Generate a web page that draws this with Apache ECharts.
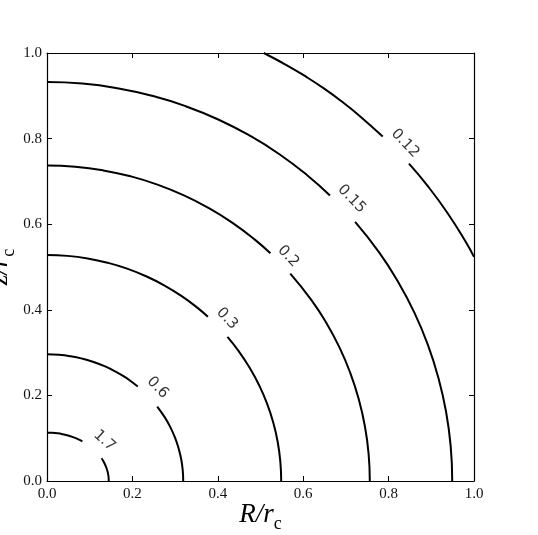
<!DOCTYPE html>
<html><head><meta charset="utf-8">
<script src="https://cdn.jsdelivr.net/npm/echarts@6/dist/echarts.min.js"></script>
<style>html,body{margin:0;padding:0;background:#fff}#c{width:538px;height:535px}</style>
</head><body><div id="c"></div>
<script>
// Tick labels
const tickLabels = ['0.0', '0.2', '0.4', '0.6', '0.8', '1.0'];
// Contour levels
const levels = ['1.7', '0.6', '0.3', '0.2', '0.15', '0.12'];
// Contour paths [R/rc, z/rc], split where the inline label sits
const c17a = [[0, 0.113], [0.0126, 0.1126], [0.0251, 0.1113], [0.0374, 0.1091], [0.0495, 0.1062], [0.0611, 0.1024], [0.0723, 0.0979], [0.0829, 0.0926]];
const c17b = [[0.1277, 0.0531], [0.1311, 0.0478], [0.1359, 0.0386], [0.1397, 0.0292], [0.1424, 0.0196], [0.1441, 0.0099], [0.1446, 0]];
const c06a = [[0, 0.296], [0.0278, 0.2949], [0.0554, 0.2915], [0.0826, 0.2859], [0.1091, 0.2782], [0.1348, 0.2683], [0.1595, 0.2563], [0.1830, 0.2425], [0.2050, 0.2267], [0.2126, 0.2207]];
const c06b = [[0.2581, 0.1740], [0.2763, 0.148], [0.2891, 0.1251], [0.2998, 0.1012], [0.3081, 0.0766], [0.3142, 0.0514], [0.3178, 0.0258], [0.319, 0]];
const c03a = [[0, 0.528], [0.0478, 0.526], [0.0952, 0.52], [0.1420, 0.51], [0.1876, 0.4962], [0.2318, 0.4785], [0.2743, 0.4572], [0.3146, 0.4325], [0.3526, 0.4045], [0.3769, 0.3836]];
const c03b = [[0.4226, 0.3366], [0.4493, 0.3029], [0.4750, 0.264], [0.4971, 0.2231], [0.5154, 0.1806], [0.5298, 0.1366], [0.5402, 0.0917], [0.5464, 0.046], [0.5485, 0]];
const c02a = [[0, 0.737], [0.0659, 0.7342], [0.1312, 0.7258], [0.1957, 0.7119], [0.2586, 0.6926], [0.3195, 0.6679], [0.378, 0.6382], [0.4336, 0.6038], [0.486, 0.5645], [0.5232, 0.532]];
const c02b = [[0.5697, 0.4845], [0.6193, 0.4227], [0.6547, 0.3685], [0.6852, 0.3115], [0.7104, 0.2521], [0.7302, 0.1907], [0.7445, 0.128], [0.7531, 0.0643], [0.756, 0]];
const c015a = [[0, 0.932], [0.0828, 0.9285], [0.1648, 0.9178], [0.2456, 0.9002], [0.3246, 0.8758], [0.4011, 0.8447], [0.4745, 0.8071], [0.5443, 0.7635], [0.61, 0.7139], [0.6627, 0.667]];
const c015b = [[0.7216, 0.6053], [0.7774, 0.5346], [0.8218, 0.466], [0.8601, 0.3939], [0.8918, 0.3187], [0.9166, 0.2412], [0.9346, 0.1618], [0.9454, 0.0813], [0.949, 0]];
const c012a = [[0.5077, 1.0], [0.5659, 0.969], [0.6081, 0.9437], [0.6492, 0.9166], [0.689, 0.8877], [0.7275, 0.8571], [0.7862, 0.8048]];
const c012b = [[0.8477, 0.7414], [0.8919, 0.6889], [0.9383, 0.6257], [0.9802, 0.5595], [1.0, 0.5237]];
// Inline label anchor positions [R/rc, z/rc]
const labelPos = [[0.1345, 0.094], [0.259, 0.218], [0.4215, 0.3795], [0.565, 0.525], [0.7135, 0.659], [0.8386, 0.789]];

const labelRot = [-42, -46, -46, -46, -46, -46];
const paths = [c17a, c17b, c06a, c06b, c03a, c03b, c02a, c02b, c015a, c015b, c012a, c012b];

const serif = 'Liberation Serif';
const nameRich = {
  i: {fontFamily: serif, fontStyle: 'italic', fontSize: 27, color: '#000', lineHeight: 36},
  s: {fontFamily: serif, fontSize: 18, color: '#000', lineHeight: 18, verticalAlign: 'bottom'}
};
const frame = {show: true, onZero: false, lineStyle: {color: '#000', width: 1.2}};
const ticks = {show: true, inside: true, length: 5, lineStyle: {color: '#000', width: 1}};
const lbl = {fontFamily: serif, fontSize: 15, color: '#111', formatter: v => tickLabels[Math.round(v / 0.2)]};

const series = paths.map(p => ({
  type: 'line', data: p, showSymbol: false, smooth: true, silent: true,
  lineStyle: {color: '#000', width: 2}, xAxisIndex: 0, yAxisIndex: 0, z: 3
}));
series.push({
  type: 'scatter', symbolSize: 0, silent: true, z: 4,
  data: labelPos.map((p, k) => ({
    value: p,
    label: {show: true, formatter: levels[k], rotate: labelRot[k], position: 'inside',
      fontFamily: 'DejaVu Sans', fontSize: 15, color: '#000'}
  }))
});

const chart = echarts.init(document.getElementById('c'), null, {renderer: 'canvas'});
chart.setOption({
  animation: false,
  backgroundColor: '#fff',
  grid: {left: 47, top: 53, right: 64, bottom: 54, containLabel: false, outerBoundsMode: 'none'},
  xAxis: [
    {type: 'value', min: 0, max: 1, interval: 0.2, position: 'bottom',
      axisLine: frame, axisTick: ticks, axisLabel: Object.assign({margin: 6}, lbl), splitLine: {show: false},
      name: '{i|R/r}{s|c}', nameLocation: 'middle', nameGap: 16, nameMoveOverlap: false,
      nameTextStyle: {rich: nameRich}},
    {type: 'value', min: 0, max: 1, interval: 0.2, position: 'top',
      axisLine: frame, axisTick: ticks, axisLabel: {show: false}, splitLine: {show: false}}
  ],
  yAxis: [
    {type: 'value', min: 0, max: 1, interval: 0.2, position: 'left',
      axisLine: frame, axisTick: ticks, axisLabel: Object.assign({margin: 5}, lbl), splitLine: {show: false},
      name: '{i|z/r}{s|c}', nameLocation: 'middle', nameGap: 29, nameMoveOverlap: false,
      nameTextStyle: {rich: nameRich}},
    {type: 'value', min: 0, max: 1, interval: 0.2, position: 'right',
      axisLine: frame, axisTick: ticks, axisLabel: {show: false}, splitLine: {show: false}}
  ],
  series: series
});
</script></body></html>
